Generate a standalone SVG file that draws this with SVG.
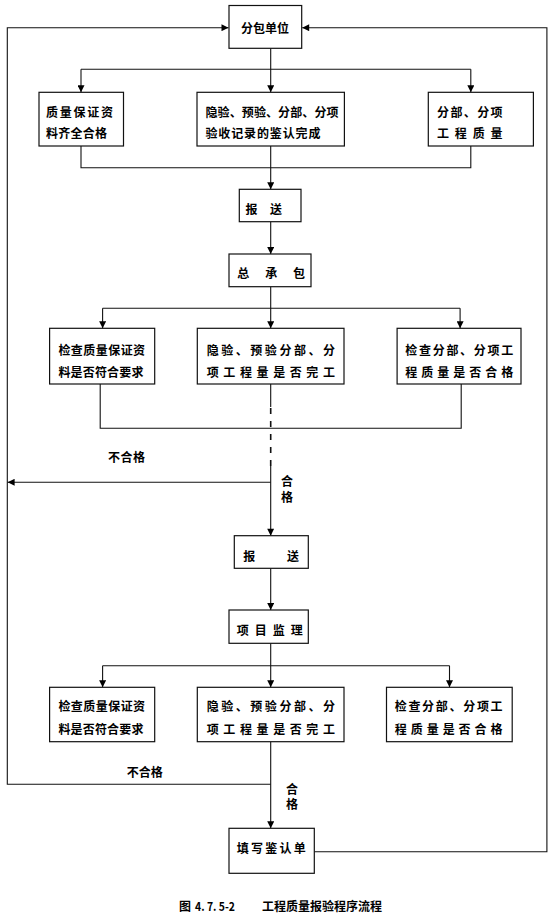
<svg xmlns="http://www.w3.org/2000/svg" width="555" height="922" viewBox="0 0 555 922">
<style>
.bg{fill:#fff}
.box{fill:#fff;stroke:#111;stroke-width:1.2}
.ln{fill:none;stroke:#111;stroke-width:1.1}
.dash{fill:none;stroke:#111;stroke-width:1.6;stroke-dasharray:6 7}
.t{font-family:"Noto Sans CJK SC","Noto Sans CJK JP",sans-serif;font-size:12px;font-weight:bold;fill:#000;dominant-baseline:central}
.c{text-anchor:middle}
.cap{font-family:"Noto Sans CJK SC","Noto Sans CJK JP",sans-serif;font-size:12px;font-weight:bold;fill:#000;dominant-baseline:central}
</style>
<defs>
<marker id="ar" viewBox="0 0 10 10" refX="10" refY="5" markerWidth="8" markerHeight="7" markerUnits="userSpaceOnUse" orient="auto">
<path d="M0,0 L10,5 L0,10 z" fill="#000"/>
</marker>
</defs>
<rect class="bg" x="0" y="0" width="555" height="922"/>

<g id="connectors">
<path class="ln" d="M270.7,784.3 H7.3 V27.7 H228.5" marker-end="url(#ar)"/>
<path class="ln" d="M314.3,851.7 H546.9 V27.7 H302.2" marker-end="url(#ar)"/>
<path class="ln" d="M270.7,48.3 V92.3" marker-end="url(#ar)"/>
<path class="ln" d="M81,69.3 H470.8"/>
<path class="ln" d="M81,69.3 V92.3" marker-end="url(#ar)"/>
<path class="ln" d="M470.8,69.3 V92.3" marker-end="url(#ar)"/>
<path class="ln" d="M81,146 V167.7 H470.8 V146"/>
<path class="ln" d="M270.7,146 V189.3" marker-end="url(#ar)"/>
<path class="ln" d="M270.7,221.7 V254" marker-end="url(#ar)"/>
<path class="ln" d="M270.7,286.7 V328.3" marker-end="url(#ar)"/>
<path class="ln" d="M102.6,308.3 H460.1"/>
<path class="ln" d="M102.6,308.3 V328.3" marker-end="url(#ar)"/>
<path class="ln" d="M460.1,308.3 V328.3" marker-end="url(#ar)"/>
<path class="ln" d="M100.2,384 V428.3 H461.2 V384"/>
<path class="ln" d="M270.7,384 V407"/>
<path class="dash" d="M270.7,408 V466"/>
<path class="ln" d="M270.7,466 V535.7" marker-end="url(#ar)"/>
<path class="ln" d="M270.7,482.3 H7.6" marker-end="url(#ar)"/>
<path class="ln" d="M270.7,568.3 V610" marker-end="url(#ar)"/>
<path class="ln" d="M270.7,643.3 V687.3" marker-end="url(#ar)"/>
<path class="ln" d="M102.6,665.7 H449.5"/>
<path class="ln" d="M102.6,665.7 V687.3" marker-end="url(#ar)"/>
<path class="ln" d="M449.5,665.7 V687.3" marker-end="url(#ar)"/>
<path class="ln" d="M270.7,741.7 V828.3" marker-end="url(#ar)"/>
<text class="t" x="108" y="456.7" textLength="37" lengthAdjust="spacing">不合格</text>
<text class="t c" x="287" y="480">合</text>
<text class="t c" x="287" y="496.5">格</text>
<text class="t" x="126.7" y="771.7" textLength="36" lengthAdjust="spacing">不合格</text>
<text class="t c" x="292" y="788">合</text>
<text class="t c" x="292" y="803.5">格</text>
</g>

<g id="n-fenbao">
<rect class="box" x="229" y="5.5" width="72.7" height="42.8"/>
<text class="t" x="241" y="27" textLength="48" lengthAdjust="spacing">分包单位</text>
</g>

<g id="n-top-l">
<rect class="box" x="39" y="92.3" width="84.5" height="53.7"/>
<text class="t" x="46" y="111" textLength="67" lengthAdjust="spacing">质量保证资</text>
<text class="t" x="46" y="132.5" textLength="61" lengthAdjust="spacing">料齐全合格</text>
</g>

<g id="n-top-m">
<rect class="box" x="197" y="92.3" width="147.4" height="53.7"/>
<text class="t" x="205.5" y="111" textLength="133" lengthAdjust="spacing">隐验、预验、分部、分项</text>
<text class="t" x="205.5" y="132.5" textLength="115" lengthAdjust="spacing">验收记录的鉴认完成</text>
</g>

<g id="n-top-r">
<rect class="box" x="428.3" y="92.3" width="105.1" height="53.7"/>
<text class="t" x="437" y="111" textLength="65.6" lengthAdjust="spacing">分部、分项</text>
<text class="t" x="437" y="132.5" textLength="65.6" lengthAdjust="spacing">工程质量</text>
</g>

<g id="n-baosong1">
<rect class="box" x="239.3" y="189.3" width="61.7" height="32.4"/>
<text class="t" x="245.5" y="208.3" textLength="36.5" lengthAdjust="spacing">报送</text>
</g>

<g id="n-zongchengbao">
<rect class="box" x="229" y="254" width="82" height="32.7"/>
<text class="t" x="237.3" y="272.7" textLength="67.7" lengthAdjust="spacing">总承包</text>
</g>

<g id="n-chk1-l">
<rect class="box" x="49.6" y="328.3" width="105.1" height="55.7"/>
<text class="t" x="58.4" y="349" textLength="86.7" lengthAdjust="spacing">检查质量保证资</text>
<text class="t" x="58.4" y="371" textLength="85" lengthAdjust="spacing">料是否符合要求</text>
</g>

<g id="n-chk1-m">
<rect class="box" x="197.3" y="328.3" width="146.7" height="55.7"/>
<text class="t" x="206.7" y="349" textLength="128.3" lengthAdjust="spacing">隐验、预验分部、分</text>
<text class="t" x="206.7" y="371" textLength="128.3" lengthAdjust="spacing">项工程量是否完工</text>
</g>

<g id="n-chk1-r">
<rect class="box" x="397.1" y="328.3" width="123.9" height="55.7"/>
<text class="t" x="405.3" y="349" textLength="107.9" lengthAdjust="spacing">检查分部、分项工</text>
<text class="t" x="405.3" y="371" textLength="107.9" lengthAdjust="spacing">程质量是否合格</text>
</g>

<g id="n-baosong2">
<rect class="box" x="234.3" y="535.7" width="74" height="32.6"/>
<text class="t" x="243.3" y="555" textLength="55.7" lengthAdjust="spacing">报送</text>
</g>

<g id="n-jianli">
<rect class="box" x="229" y="610" width="79.3" height="33.3"/>
<text class="t" x="236.7" y="629.3" textLength="66" lengthAdjust="spacing">项目监理</text>
</g>

<g id="n-chk2-l">
<rect class="box" x="49.6" y="687.3" width="105.1" height="54.4"/>
<text class="t" x="58.4" y="705.5" textLength="86.7" lengthAdjust="spacing">检查质量保证资</text>
<text class="t" x="58.4" y="728.3" textLength="85" lengthAdjust="spacing">料是否符合要求</text>
</g>

<g id="n-chk2-m">
<rect class="box" x="197.3" y="687.3" width="146.7" height="54.4"/>
<text class="t" x="206.7" y="705.5" textLength="128.3" lengthAdjust="spacing">隐验、预验分部、分</text>
<text class="t" x="206.7" y="728.3" textLength="128.3" lengthAdjust="spacing">项工程量是否完工</text>
</g>

<g id="n-chk2-r">
<rect class="box" x="386.5" y="687.3" width="125.7" height="54.4"/>
<text class="t" x="394.7" y="705.5" textLength="107.9" lengthAdjust="spacing">检查分部、分项工</text>
<text class="t" x="394.7" y="728.3" textLength="107.9" lengthAdjust="spacing">程质量是否合格</text>
</g>

<g id="n-tianxie">
<rect class="box" x="229" y="828.3" width="85.3" height="45"/>
<text class="t" x="236.7" y="847" textLength="69" lengthAdjust="spacing">填写鉴认单</text>
</g>

<g id="caption">
<text class="cap" x="179" y="905">图</text>
<text class="cap" x="195" y="905" textLength="40" lengthAdjust="spacingAndGlyphs">4. 7. 5-2</text>
<text class="cap" x="262" y="905" textLength="120" lengthAdjust="spacing">工程质量报验程序流程</text>
</g>
</svg>
